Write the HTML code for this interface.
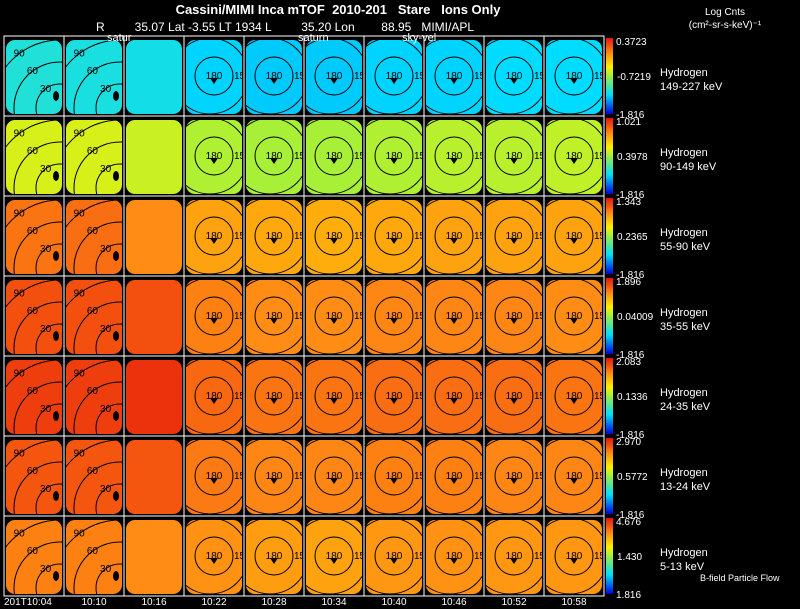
<!DOCTYPE html>
<html><head><meta charset="utf-8"><style>
html,body{margin:0;padding:0;background:#000;width:800px;height:609px;overflow:hidden}
svg{display:block;font-family:"Liberation Sans",sans-serif}
</style></head><body>
<svg id="chart" width="800" height="609" viewBox="0 0 800 609">
<rect width="800" height="609" fill="#000"/>
<text x="338" y="14" fill="#fff" font-size="13" font-weight="bold" text-anchor="middle" xml:space="preserve">Cassini/MIMI Inca mTOF  2010-201   Stare   Ions Only</text>
<text x="96" y="31" fill="#fff" font-size="12" xml:space="preserve">R         35.07 Lat -3.55 LT 1934 L         35.20 Lon        88.95   MIMI/APL</text>
<text x="725" y="15" fill="#fff" font-size="10" text-anchor="middle">Log Cnts</text>
<text x="725" y="28" fill="#fff" font-size="10" text-anchor="middle">(cm²-sr-s-keV)⁻¹</text>
<defs id="defs"></defs>
<g id="panels"></g>
<g id="overlay"></g>
</svg>
<script>
const times=["201T10:04","10:10","10:16","10:22","10:28","10:34","10:40","10:46","10:52","10:58"];
const species=["149-227 keV","90-149 keV","55-90 keV","35-55 keV","24-35 keV","13-24 keV","5-13 keV"];
const cbTop=["0.3723","1.021","1.343","1.896","2.083","2.970","4.676"];
const cbMid=["-0.7219","0.3978","0.2365","0.04009","0.1336","0.5772","1.430"];
const cbBot=["-1.816","-1.816","-1.816","-1.816","-1.816","-1.816","1.816"];
// mean normalised intensity per panel (0=blue,1=red)
const row0=[0.30,0.29,0.28,0.24,0.23,0.23,0.24,0.24,0.25,0.25];
const row1=[0.57,0.57,0.55,0.52,0.51,0.51,0.52,0.53,0.53,0.54];
const row2=[0.84,0.85,0.80,0.76,0.75,0.74,0.75,0.76,0.76,0.76];
const row3=[0.90,0.90,0.90,0.82,0.80,0.80,0.81,0.81,0.81,0.80];
const row4=[0.93,0.93,0.95,0.86,0.84,0.84,0.85,0.85,0.85,0.84];
const row5=[0.89,0.89,0.89,0.83,0.81,0.81,0.82,0.82,0.81,0.81];
const row6=[0.82,0.82,0.80,0.79,0.77,0.76,0.78,0.79,0.78,0.78];
const rows=[row0,row1,row2,row3,row4,row5,row6];
const X0=4,Y0=36,CW=60,RH=80;
const xs=i=>X0+i*CW, ys=r=>Y0+r*RH;
function cmap(v){
  const stops=[[0,[0,0,220]],[0.25,[0,220,255]],[0.5,[160,240,60]],[0.62,[255,240,0]],[0.8,[255,140,20]],[1,[230,20,10]]];
  for(let i=1;i<stops.length;i++){if(v<=stops[i][0]){const a=stops[i-1],b=stops[i],t=(v-a[0])/(b[0]-a[0]);
    return `rgb(${b[1].map((c,k)=>Math.round(a[1][k]+(c-a[1][k])*t)).join(",")})`;}}
  return "rgb(230,20,10)";
}
const NS="http://www.w3.org/2000/svg";
const P=document.getElementById("panels"),O=document.getElementById("overlay"),D=document.getElementById("defs");
function el(tag,attrs,parent){const e=document.createElementNS(NS,tag);for(const k in attrs)e.setAttribute(k,attrs[k]);parent.appendChild(e);return e;}
function txt(x,y,s,size,anchor,parent,fill){const t=el("text",{x:x,y:y,"font-size":size,fill:fill||"#fff","text-anchor":anchor||"start"},parent);t.textContent=s;return t;}
rows.forEach((vals,r)=>{
  vals.forEach((v,c)=>{
    const x=xs(c),y=ys(r);
    const cid=`clip${r}_${c}`;
    const cp=el("clipPath",{id:cid},D);
    el("rect",{x:x+2,y:y+4,width:CW-4,height:RH-6,rx:9},cp);
    const g=el("g",{},P);
    
    
    const inner=el("g",{"clip-path":`url(#${cid})`},g);
    el("rect",{x:x,y:y,width:CW,height:RH,fill:cmap(v)},inner);
    const cx=x+CW/2,cy=y+RH/2;
    if(c<2){
      const ox=x+CW-4,oy=y+RH-8;
      [[24,"30"],[46,"60"],[68,"90"]].forEach(([rad,l])=>{
        el("circle",{cx:ox,cy:oy,r:rad,fill:"none",stroke:"#000","stroke-width":1},inner);
        txt(ox-rad*0.6,oy-rad*0.8+3,l,10,"middle",inner,"#000");
      });
      el("ellipse",{cx:ox-4,cy:oy-12,rx:3,ry:5,fill:"#000"},inner);
    } else if(c>=3){
      el("circle",{cx:cx,cy:cy,r:19,fill:"none",stroke:"#000","stroke-width":1},inner);
      el("circle",{cx:cx-4,cy:cy,r:38,fill:"none",stroke:"#000","stroke-width":1},inner);
      txt(cx,cy+3,"180",10,"middle",inner,"#000");
      txt(cx+20,cy+3,"150",10,"start",inner,"#000");
      el("path",{d:`M${cx-4},${cy+2} L${cx+4},${cy+2} L${cx},${cy+8}Z`,fill:"#000"},inner);
    }
    el("rect",{x:x,y:y,width:CW,height:RH,fill:"none",stroke:"#fff","stroke-width":1},g);
  });
  const cy0=ys(r)+2,ch=RH-4;
  const cb=el("g",{},O);
  
  
  const gid="cbg"+r;
  const lg=el("linearGradient",{id:gid,x1:0,y1:1,x2:0,y2:0},cb);
  [0,0.25,0.5,0.62,0.8,1].forEach(s=>el("stop",{offset:s,"stop-color":cmap(s)},lg));
  el("rect",{x:606,y:cy0,width:7,height:ch,fill:`url(#${gid})`},cb);
  txt(616,cy0+7,cbTop[r],10,"start",cb);
  txt(617,ys(r)+44,cbMid[r],10,"start",cb);
  txt(616,ys(r)+RH+2,cbBot[r],10,"start",cb);
  const lab=el("g",{},O);
  
  
  txt(660,ys(r)+40,"Hydrogen",11,"start",lab);
  txt(660,ys(r)+54,species[r],11,"start",lab);
});
times.forEach((t,c)=>{
  const e=txt(c===0?4:xs(c)+CW/2,605,t,10,c===0?"start":"middle",O);
  
  
});
[["satur",107],["saturn",298],["sky-vel",402]].forEach(([s,x])=>{
  const e=txt(x,41,s,11,"start",O);
  
  
});
const bf=txt(700,581,"B-field Particle Flow",9,"start",O);


</script>
</body></html>
